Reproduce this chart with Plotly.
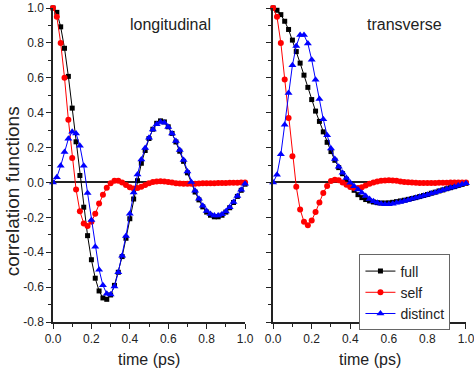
import plotly.graph_objects as go

time_ps = [0.00, 0.02, 0.04, 0.06, 0.08, 0.10, 0.12, 0.14, 0.16, 0.18,
           0.20, 0.22, 0.24, 0.26, 0.28, 0.30, 0.32, 0.34, 0.36, 0.38,
           0.40, 0.42, 0.44, 0.46, 0.48, 0.50, 0.52, 0.54, 0.56, 0.58,
           0.60, 0.62, 0.64, 0.66, 0.68, 0.70, 0.72, 0.74, 0.76, 0.78,
           0.80, 0.82, 0.84, 0.86, 0.88, 0.90, 0.92, 0.94, 0.96, 0.98, 1.00]

# longitudinal
full_long = [1.0, 0.975, 0.892, 0.769, 0.608, 0.426, 0.233, 0.04, -0.142, -0.305,
             -0.443, -0.549, -0.622, -0.662, -0.67, -0.645, -0.59, -0.515, -0.425, -0.32,
             -0.208, -0.095, 0.01, 0.11, 0.183, 0.252, 0.305, 0.339, 0.353, 0.347,
             0.319, 0.281, 0.232, 0.179, 0.121, 0.055, -0.006, -0.055, -0.1, -0.14,
             -0.17, -0.188, -0.197, -0.197, -0.188, -0.17, -0.145, -0.115, -0.08, -0.045, -0.01]
self_long = [1.0, 0.95, 0.80, 0.60, 0.36, 0.14, -0.04, -0.165, -0.235, -0.25,
             -0.225, -0.18, -0.12, -0.07, -0.03, -0.005, 0.01, 0.01, 0.0, -0.015,
             -0.028, -0.034, -0.032, -0.024, -0.014, -0.005, 0.002, 0.006, 0.007, 0.005,
             0.002, -0.001, -0.004, -0.006, -0.007, -0.008, -0.008, -0.007, -0.006, -0.005,
             -0.004, -0.004, -0.004, -0.003, -0.003, -0.003, -0.002, -0.002, -0.002, -0.001, -0.001]
dist_long = [0.0, 0.03, 0.095, 0.175, 0.25, 0.29, 0.28, 0.21, 0.095, -0.06,
             -0.216, -0.369, -0.5, -0.59, -0.638, -0.642, -0.597, -0.515, -0.42, -0.307,
             -0.18, -0.058, 0.045, 0.132, 0.197, 0.256, 0.303, 0.334, 0.347, 0.342,
             0.318, 0.28, 0.237, 0.186, 0.128, 0.063, 0.002, -0.048, -0.093, -0.133,
             -0.163, -0.181, -0.19, -0.19, -0.182, -0.166, -0.142, -0.112, -0.077, -0.042, -0.008]

# transverse
full_trans = [1.0, 0.987, 0.962, 0.924, 0.877, 0.816, 0.75, 0.684, 0.615, 0.545,
              0.475, 0.409, 0.35, 0.29, 0.23, 0.177, 0.127, 0.085, 0.05, 0.018,
              -0.015, -0.045, -0.07, -0.087, -0.098, -0.106, -0.112, -0.116, -0.118, -0.118,
              -0.117, -0.114, -0.11, -0.106, -0.102, -0.097, -0.092, -0.087, -0.081, -0.075,
              -0.069, -0.062, -0.056, -0.049, -0.043, -0.036, -0.03, -0.024, -0.017, -0.011, -0.005]
self_trans = [1.0, 0.95, 0.80, 0.59, 0.37, 0.15, -0.025, -0.155, -0.225, -0.245,
              -0.218, -0.17, -0.115, -0.06, -0.02, 0.008, 0.016, 0.012, 0.0, -0.013,
              -0.026, -0.032, -0.032, -0.027, -0.018, -0.008, 0.0, 0.005, 0.009, 0.011,
              0.012, 0.011, 0.009, 0.006, 0.003, 0.001, -0.001, -0.002, -0.003, -0.003,
              -0.003, -0.003, -0.003, -0.002, -0.002, -0.002, -0.001, -0.001, -0.001, 0.0, 0.0]
dist_trans = [0.0, 0.044, 0.161, 0.331, 0.513, 0.672, 0.782, 0.845, 0.845, 0.797,
              0.703, 0.589, 0.479, 0.362, 0.271, 0.195, 0.135, 0.09, 0.055, 0.025,
              -0.002, -0.022, -0.04, -0.059, -0.078, -0.095, -0.108, -0.117, -0.122, -0.125,
              -0.125, -0.122, -0.117, -0.112, -0.106, -0.1, -0.094, -0.088, -0.082, -0.076,
              -0.07, -0.063, -0.057, -0.05, -0.044, -0.037, -0.031, -0.024, -0.018, -0.011, -0.005]

series_names = ["full", "self", "distinct"]
colors = ["#000000", "#ff0000", "#0000ff"]
symbols = ["square", "circle", "triangle-up"]
sizes = [5, 6, 7]

panel_titles = ["longitudinal", "transverse"]
y_title = "correlation functions"
x_title = "time (ps)"
tick_vals = [0.0, 0.2, 0.4, 0.6, 0.8, 1.0]
tick_text = ["0.0", "0.2", "0.4", "0.6", "0.8", "1.0"]
ytick_vals = [-0.8, -0.6, -0.4, -0.2, 0.0, 0.2, 0.4, 0.6, 0.8, 1.0]
ytick_text = ["-0.8", "-0.6", "-0.4", "-0.2", "0.0", "0.2", "0.4", "0.6", "0.8", "1.0"]

FONT = "Arial, Liberation Sans, sans-serif"
fig = go.Figure()

panels = [
    ("x", "y", [full_long, self_long, dist_long], False),
    ("x2", "y2", [full_trans, self_trans, dist_trans], True),
]
for xa, ya, data, show in panels:
    for name, vals, c, s, sz in zip(series_names, data, colors, symbols, sizes):
        fig.add_trace(go.Scatter(
            x=time_ps, y=vals, xaxis=xa, yaxis=ya, name=name,
            mode="lines+markers", showlegend=show, cliponaxis=False,
            line=dict(color=c, width=1),
            marker=dict(symbol=s, size=sz, color=c, line=dict(width=0)),
        ))

axis_common = dict(
    showline=True, linecolor="#222", linewidth=1.5, mirror=False, automargin=False,
    showgrid=False, ticks="outside", ticklen=5, tickwidth=1.2, tickcolor="#222",
    tickfont=dict(family=FONT, size=12, color="#222"), ticklabeloverflow="allow",
)
xaxis_common = dict(axis_common, range=[0, 1], tickvals=tick_vals, ticktext=tick_text,
                    zeroline=False,
                    minor=dict(ticks="outside", ticklen=3, dtick=0.1, tick0=0, tickcolor="#222"))
yaxis_common = dict(axis_common, range=[-0.8, 1.0], tickvals=ytick_vals,
                    zeroline=True, zerolinecolor="#222", zerolinewidth=1.5,
                    minor=dict(ticks="outside", ticklen=3, dtick=0.1, tick0=0, tickcolor="#222"))

def ann(text, x, y, size, angle=0):
    return dict(text=text, x=x, y=y, xref="paper", yref="paper", showarrow=False,
                xanchor="center", yanchor="middle", textangle=angle,
                font=dict(family=FONT, size=size, color="#222"))

fig.update_layout(
    width=474, height=369,
    margin=dict(l=53, r=8, t=8, b=47),
    paper_bgcolor="white", plot_bgcolor="white",
    font=dict(family=FONT, color="#222"),
    xaxis=dict(xaxis_common, domain=[0, 0.465], anchor="y"),
    xaxis2=dict(xaxis_common, domain=[0.533, 1.0], anchor="y2"),
    yaxis=dict(yaxis_common, domain=[0, 1], anchor="x", ticktext=ytick_text),
    yaxis2=dict(yaxis_common, domain=[0, 1], anchor="x2", showticklabels=False),
    legend=dict(x=0.742, y=0.215, xanchor="left", yanchor="top",
                bordercolor="#666", borderwidth=1, bgcolor="white",
                font=dict(family=FONT, size=14, color="#222"),
                tracegroupgap=0, itemwidth=30),
    annotations=[
        ann(panel_titles[0], 0.2857, 0.948, 16),
        ann(panel_titles[1], 0.852, 0.948, 16),
        ann(x_title, 0.2325, -0.118, 16),
        ann(x_title, 0.7665, -0.118, 16),
        ann(y_title, -0.099, 0.4164, 19, -90),
    ],
)

fig.write_html("out.html", config={"displayModeBar": False},
               post_script="document.body.style.margin='0';document.body.style.overflow='hidden';")
